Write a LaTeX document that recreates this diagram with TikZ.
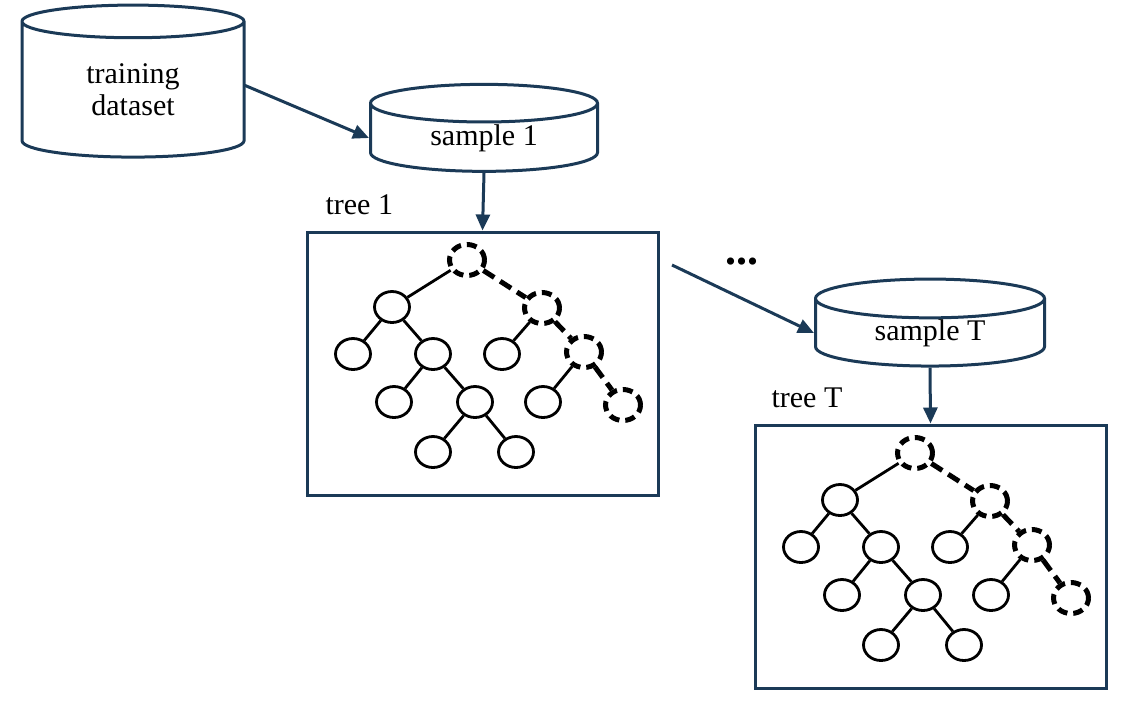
\documentclass[tikz,border=0pt]{standalone}
\usepackage{fontspec}
\setmainfont{Liberation Serif}
\usetikzlibrary{shapes.geometric,arrows.meta}
\definecolor{navy}{HTML}{1B3A57}
\tikzset{
 db/.style={cylinder, shape border rotate=90, draw=navy, line width=3pt, fill=white, font=\fontsize{30}{34}\selectfont, align=center, inner sep=0pt},
 conn/.style={draw=navy, line width=3pt, -{Triangle[length=16pt,width=14pt]}},
 frame/.style={draw=navy, line width=3pt},
 tn/.style={ellipse, draw=black, line width=2.8pt, minimum width=35pt, minimum height=31pt, inner sep=0pt},
 dn/.style={tn, line width=5pt, dash pattern=on 10pt off 6pt},
 te/.style={draw=black, line width=2.8pt},
 de/.style={draw=black, line width=5pt, dash pattern=on 13pt off 7pt},
 lbl/.style={font=\fontsize{30}{34}\selectfont, anchor=base west}
}
\begin{document}
\begin{tikzpicture}[x=1pt,y=-1pt]
\useasboundingbox (0,0) rectangle (1123,710);
\node[db, minimum width=222pt, minimum height=152pt, aspect=0.35] (train) at (133,90) {training\\[-2pt]dataset};
\node[db, minimum width=227pt, minimum height=87pt, aspect=0.35] (s1) at (484,138) {sample 1};
\node[db, minimum width=229pt, minimum height=87pt, aspect=0.35] (sT) at (930,333) {sample T};
\node[lbl] (l1) at (322,214) {tree 1};
\node[lbl] (lT) at (768,407) {tree T};
\foreach \p/\dx/\dy in {A/0/0,B/448/193}{
 \begin{scope}[shift={(\dx,\dy)}]
 \node[frame, minimum width=351pt, minimum height=263pt, inner sep=0pt] (box\p) at (482.5,363.5) {};
 \node[dn] (\p r) at (467,260) {};
 \node[tn] (\p l) at (392,307) {};
 \node[dn] (\p rr) at (542,308) {};
 \node[tn] (\p ll) at (353,354) {};
 \node[tn] (\p lr) at (433,354) {};
 \node[tn] (\p rl) at (502,354) {};
 \node[dn] (\p rrr) at (584,352) {};
 \node[tn] (\p lrl) at (394,402) {};
 \node[tn] (\p lrr) at (475,402) {};
 \node[tn] (\p rrl) at (543,402) {};
 \node[dn] (\p rrrr) at (623,405) {};
 \node[tn] (\p lrrl) at (433,452) {};
 \node[tn] (\p lrrr) at (516,452) {};
 \draw[te] (\p r) -- (\p l);
 \draw[te] (\p l) -- (\p ll); \draw[te] (\p l) -- (\p lr);
 \draw[te] (\p lr) -- (\p lrl); \draw[te] (\p lr) -- (\p lrr);
 \draw[te] (\p lrr) -- (\p lrrl); \draw[te] (\p lrr) -- (\p lrrr);
 \draw[te] (\p rr) -- (\p rl); \draw[te] (\p rrr) -- (\p rrl);
 \draw[de] (\p r) -- (\p rr); \draw[de] (\p rr) -- (\p rrr); \draw[de] (\p rrr) -- (\p rrrr);
 \end{scope}}
\coordinate (tA) at (244,85);
\draw[conn] (tA) -- (s1.west);
\draw[conn] (s1.south) -- (boxA.north);
\coordinate (bA) at (672,265);
\draw[conn] (bA) -- (sT.west);
\draw[conn] (sT.south) -- (boxB.north);
\node[font=\fontsize{44}{44}\selectfont\bfseries] (dots) at (742,262) {...};
\end{tikzpicture}
\end{document}
